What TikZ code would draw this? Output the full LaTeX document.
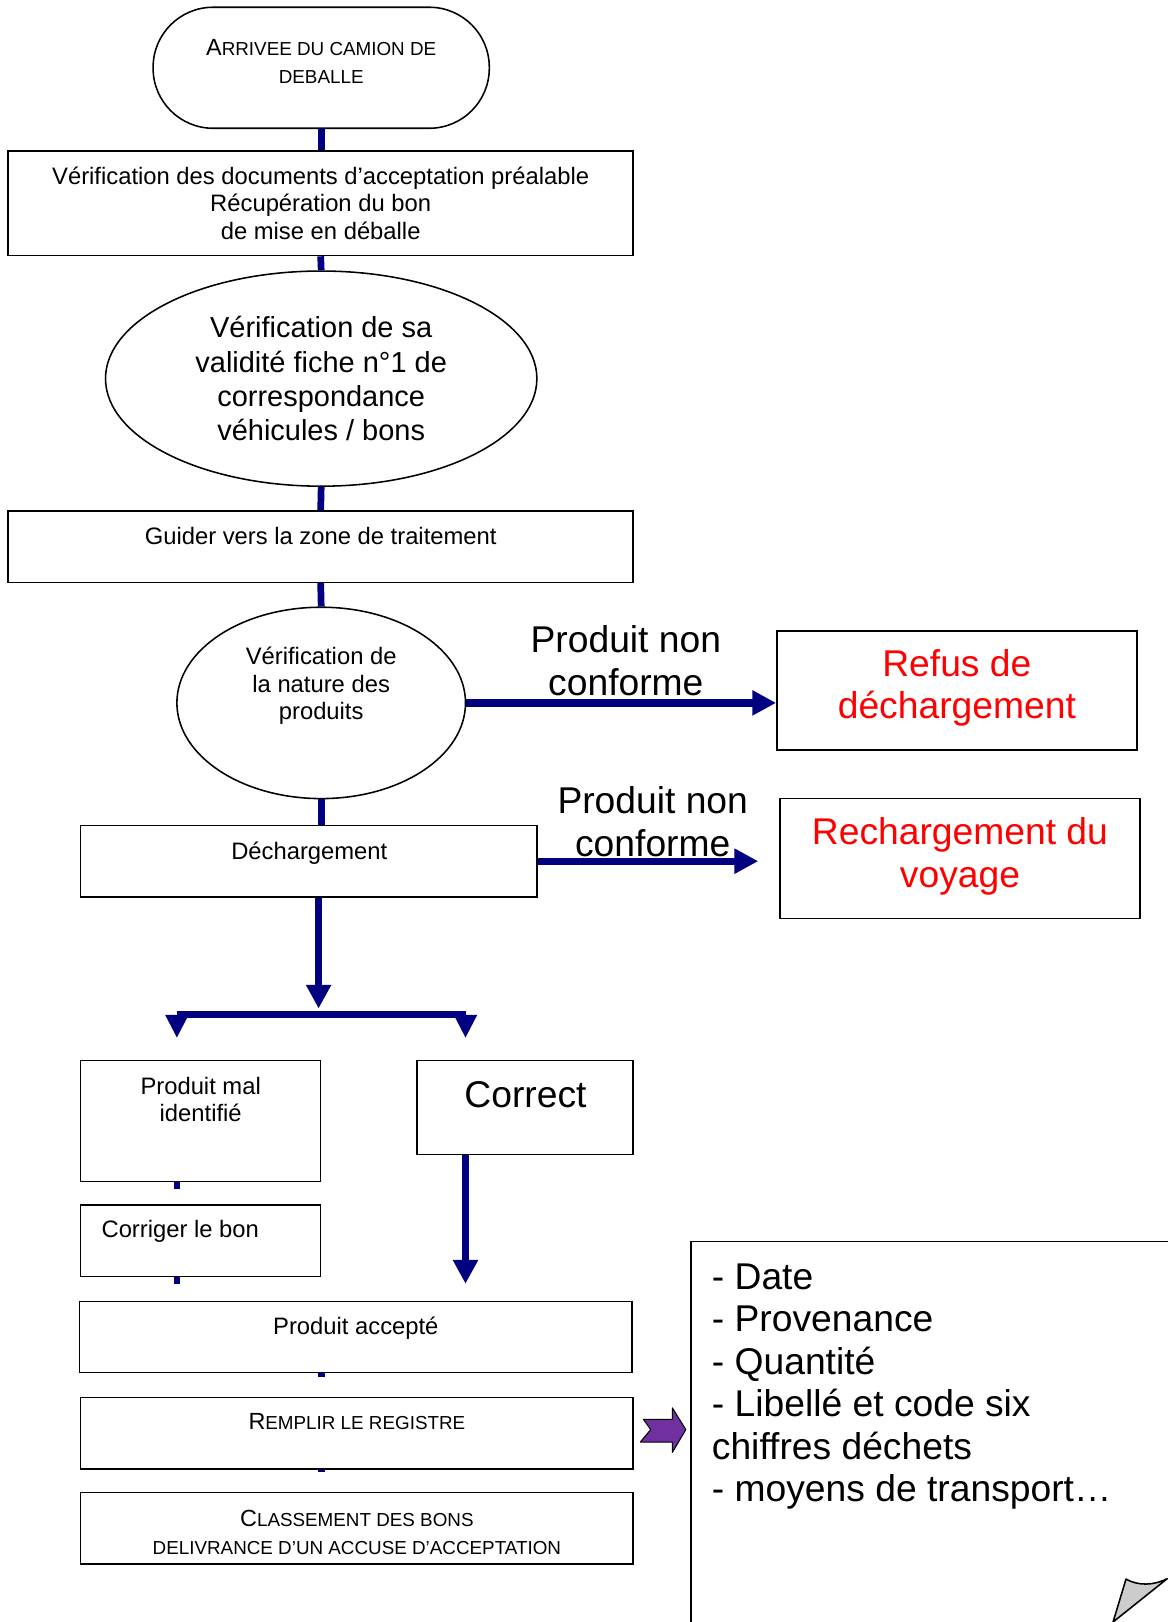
\documentclass[tikz,border=0pt]{standalone}
\usepackage{fontspec}
\setmainfont{Liberation Sans}
\usetikzlibrary{arrows.meta,shapes.geometric,calc}
\definecolor{navyc}{HTML}{000080}
\definecolor{purplec}{HTML}{7030A0}
\definecolor{foldc}{HTML}{CCCCCC}
\definecolor{redc}{HTML}{FF0000}
\newcommand\fsN{\fontsize{23}{26.5}\selectfont}
\newcommand\fsE{\fontsize{28}{33}\selectfont}
\newcommand\fsB{\fontsize{36}{41}\selectfont}
\newcommand\fsS{\fontsize{22.6}{27}\selectfont}
\newcommand\scL[1]{{\fontsize{22.6}{27}\selectfont #1}}
\newcommand\scS[1]{{\fontsize{18.2}{27}\selectfont #1}}
\begin{document}
\begin{tikzpicture}[x=1pt,y=-1pt,
  box/.style={draw=black,line width=1.5pt,rectangle,inner sep=0pt},
  ell/.style={draw=black,line width=1.5pt,ellipse,inner sep=0pt},
  txt/.style={font=\fsN,align=center,inner sep=0pt},
  txe/.style={font=\fsE,align=center,inner sep=0pt},
  txb/.style={font=\fsB,align=center,inner sep=0pt},
  txs/.style={font=\fsS,align=center,inner sep=0pt},
  conn/.style={draw=navyc,line width=6.5pt},
  arrw/.style={draw=navyc,line width=7pt,-{Triangle[length=23pt,width=23pt]}},
  arrs/.style={draw=navyc,line width=7pt,-{Triangle[length=22.5pt,width=21pt]}}]
\useasboundingbox (0,0) rectangle (1129,1568);

% nodes
\node[box,rounded corners=58pt,minimum width=325pt,minimum height=117pt] (term) at (310.5,65.5) {};
\node[txs] (term-t) at (310.5,59.5) {\scL{A}\scS{RRIVEE DU CAMION DE}\\\scS{DEBALLE}};
\node[box,txt,minimum width=604pt,minimum height=101pt] (verif) at (310,196.5)
  {Vérification des documents d’acceptation préalable\\Récupération du bon\\de mise en déballe};
\node[ell,txe,minimum width=417pt,minimum height=208pt] (ell1) at (310.5,366)
  {Vérification de sa\\validité fiche n°1 de\\correspondance\\véhicules / bons};
\node[box,minimum width=604pt,minimum height=69pt] (guide) at (310,528.5) {};
\node[txt] (guide-t) at (310,518.5) {Guider vers la zone de traitement};
\node[ell,minimum width=279pt,minimum height=185pt] (ell2) at (310.5,679.5) {};
\node[txt] (ell2-t) at (310.5,663) {Vérification de\\la nature des\\produits};
\node[box,minimum width=348pt,minimum height=115pt] (refus) at (925,667.5) {};
\node[txb,text=redc] (refus-t) at (925,665) {Refus de\\déchargement};
\node[txb] (lab1) at (605,638.5) {Produit non\\conforme};
\node[box,minimum width=441pt,minimum height=69pt] (dech) at (298.5,832.5) {};
\node[txt] (dech-t) at (299,824.5) {Déchargement};
\node[txb] (lab2) at (631,794.5) {Produit non\\conforme};
\node[box,minimum width=348pt,minimum height=116pt] (rech) at (928,830) {};
\node[txb,text=redc] (rech-t) at (928,828) {Rechargement du\\voyage};
\node[box,minimum width=232pt,minimum height=117pt] (mal) at (194,1083.5) {};
\node[txt] (mal-t) at (194,1063) {Produit mal\\identifié};
\node[box,minimum width=209pt,minimum height=91pt] (correct) at (507.5,1070.5) {};
\node[txb] (correct-t) at (508,1058) {Correct};
\node[box,minimum width=232pt,minimum height=69pt] (corr) at (194,1199.5) {};
\node[txt,anchor=west] (corr-t) at (98,1190) {Corriger le bon};
\node[box,minimum width=534pt,minimum height=69pt] (acc) at (344,1292.5) {};
\node[txt] (acc-t) at (344,1284) {Produit accepté};
\node[box,minimum width=534pt,minimum height=69pt] (reg) at (345,1385.5) {};
\node[txs] (reg-t) at (345,1374.5) {\scL{R}\scS{EMPLIR LE REGISTRE}};
\node[box,minimum width=534pt,minimum height=69pt] (cls) at (345,1477.5) {};
\node[txs] (cls-t) at (345,1481.5) {\scL{C}\scS{LASSEMENT DES BONS}\\\scS{DELIVRANCE D’UN ACCUSE D’ACCEPTATION}};

% note box (cut by the page edge)
\begin{scope}
\clip (0,0) rectangle (1129,1568);
\node[box,minimum width=482pt,minimum height=400pt] (note) at (909,1400) {};
\end{scope}
\node[txb,align=left,anchor=north west] (note-t) at (688,1221.5)
  {- Date\\- Provenance\\- Quantité\\- Libellé et code six\\chiffres déchets\\- moyens de transport…};
\filldraw[fill=foldc,draw=black,line width=1.5pt,line join=round]
  (1088.5,1526.5) .. controls (1100,1533) and (1115,1533) .. (1128.5,1526) -- (1076,1568) -- cycle;

% purple block arrow
\filldraw[fill=purplec,draw=black,line width=1pt,line join=round]
  (622,1372) -- (650,1372) -- (650,1361) -- (663,1382) -- (650,1404) -- (650,1394)
  -- (619,1394) -- (629,1382) -- cycle;

% connectors
\draw[conn] (term.south) -- (term.south |- verif.north);
\draw[conn] (verif.south) -- (ell1.north);
\draw[conn] (ell1.south) -- (guide.north);
\draw[conn] (guide.south) -- (ell2.north);
\draw[conn] (ell2.south) -- (ell2.south |- dech.north);
\draw[arrw] (ell2.east) -- (ell2.east -| refus.west);
\coordinate (r2) at (733,832.5);
\draw[arrw] (dech.east) -- (r2);
\coordinate (d1) at (308,975);
\draw[arrw] (d1 |- dech.south) -- (d1);
\coordinate (splitL) at (171,981);
\coordinate (splitR) at (450,981);
\coordinate (tipL) at (171,1003.5);
\coordinate (tipR) at (450,1003.5);
\draw[draw=navyc,line width=7pt] (splitL) -- (splitR);
\draw[arrs] (splitL) -- (tipL);
\draw[arrs] (splitR) -- (tipR);
\coordinate (c1) at (450,1241);
\draw[arrw] (c1 |- correct.south) -- (c1);
% stubs
\coordinate (s1) at (171,1149);
\draw[conn] (s1 |- mal.south) -- (s1);
\coordinate (s2) at (171,1241);
\draw[conn] (s2 |- corr.south) -- (s2);
\coordinate (s3) at (310.5,1331.5);
\draw[conn] (s3 |- acc.south) -- (s3);
\coordinate (s4) at (310.5,1423);
\draw[conn] (s4 |- reg.south) -- (s4);
\end{tikzpicture}
\end{document}
